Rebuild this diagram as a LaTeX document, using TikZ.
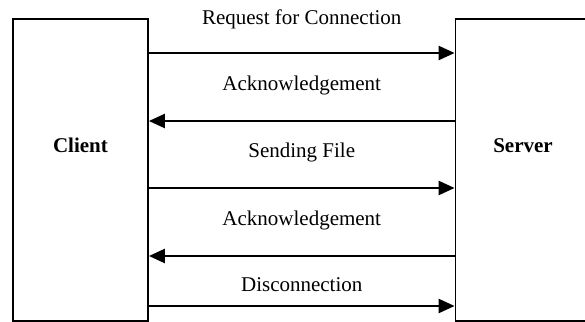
\documentclass[tikz,border=0pt]{standalone}
\usepackage{fontspec}
\setmainfont{Liberation Serif}
\usetikzlibrary{arrows.meta,calc}

\tikzset{
    hostbox/.style={draw, line width=0.9pt, minimum width=67.5pt, minimum height=151pt, inner sep=0pt},
    hostname/.style={font=\fontsize{10.5}{12}\selectfont\bfseries, anchor=base},
    msg/.style={font=\fontsize{10.5}{12}\selectfont, anchor=base},
    msgarrow/.style={line width=1.2pt, -{Triangle[length=8pt,width=7pt]}}
}

\begin{document}
\begin{tikzpicture}[x=0.5pt, y=-0.5pt]
    \clip (0,0) rectangle (585,322);
    \node[hostbox] (client) at (80.5,170) {};
    \node[hostbox] (server) at (523,170) {};
    \node[hostname] (clientname) at ($(client.center)+(0,-18)$) {Client};
    \node[hostname] (servername) at ($(server.center)+(0,-18)$) {Server};
    \draw[msgarrow] (client.east |- 0,53) -- node[msg, yshift=14.5pt] (req) {Request for Connection} (server.west |- 0,53);
    \draw[msgarrow] (server.west |- 0,121) -- node[msg, yshift=15.5pt] (ack1) {Acknowledgement} (client.east |- 0,121);
    \draw[msgarrow] (client.east |- 0,188) -- node[msg, yshift=15.5pt] (send) {Sending File} (server.west |- 0,188);
    \draw[msgarrow] (server.west |- 0,256) -- node[msg, yshift=15.5pt] (ack2) {Acknowledgement} (client.east |- 0,256);
    \draw[msgarrow] (client.east |- 0,306) -- node[msg, yshift=7.5pt] (disc) {Disconnection} (server.west |- 0,306);
\end{tikzpicture}
\end{document}
